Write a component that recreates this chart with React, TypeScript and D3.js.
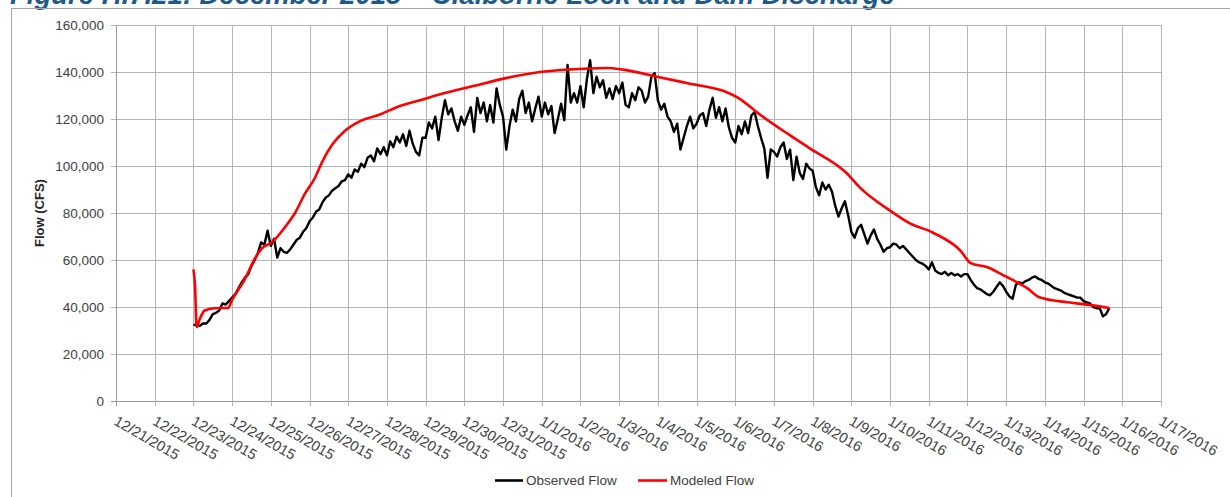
import React from "react";
import * as d3 from "d3";

const title = "Figure H.7.21: December 2015 – Claiborne Lock and Dam Discharge";
const yAxisTitle = "Flow (CFS)";
const seriesNames = ["Observed Flow", "Modeled Flow"];

const xLabels = [
  "12/21/2015", "12/22/2015", "12/23/2015", "12/24/2015", "12/25/2015", "12/26/2015",
  "12/27/2015", "12/28/2015", "12/29/2015", "12/30/2015", "12/31/2015", "1/1/2016",
  "1/2/2016", "1/3/2016", "1/4/2016", "1/5/2016", "1/6/2016", "1/7/2016", "1/8/2016",
  "1/9/2016", "1/10/2016", "1/11/2016", "1/12/2016", "1/13/2016", "1/14/2016",
  "1/15/2016", "1/16/2016", "1/17/2016",
];
const yTicks = [0, 20000, 40000, 60000, 80000, 100000, 120000, 140000, 160000];

// Series start at 12/23/2015 00:00 (day 2 after 12/21)
const seriesStartDay = 2;
// Observed flow, every 2 hours from the start (one row per day)
const observedStepHours = 2;
const observedFlow = [
  32500, 32200, 32000, 33000, 33000, 34500, 37000, 37500, 38500, 41500, 41000, 42500,
  44000, 45500, 48000, 50500, 52500, 54000, 57500, 60000, 63000, 67500, 66500, 72500,
  66000, 69000, 61000, 65000, 63500, 63000, 64500, 66500, 68500, 69500, 72000, 73500,
  76500, 78000, 80500, 81500, 84500, 86500, 87500, 89500, 90500, 91500, 93500, 94000,
  96500, 95000, 98500, 97500, 101000, 99500, 103500, 104500, 102000, 107500, 105000, 108000,
  104500, 110500, 108000, 112500, 110000, 113500, 108500, 115000, 109500, 106000, 104500, 112000,
  112000, 118500, 116000, 121000, 111000, 120500, 128000, 122000, 124500, 119000, 115000, 121000,
  117500, 121500, 125000, 114500, 129000, 122500, 127000, 119000, 126000, 118500, 133000, 126000,
  121000, 107000, 117000, 124000, 119000, 128500, 132000, 122500, 127000, 119000, 124500, 129500,
  121000, 127000, 122000, 125500, 114000, 120000, 126500, 119500, 143000, 127000, 131000, 127000,
  134000, 125000, 137000, 145000, 131000, 138000, 133500, 136500, 129000, 133000, 128500, 134000,
  131000, 135500, 126000, 125000, 131000, 128000, 133500, 132000, 127000, 129500, 138000, 139500,
  128000, 124000, 126500, 121000, 119000, 114500, 118000, 107000, 112000, 117000, 121000, 116000,
  118000, 121500, 122500, 117000, 124000, 129000, 120500, 125000, 119000, 124500, 116500, 112000,
  110000, 117000, 113500, 119000, 114000, 121500, 123000, 117000, 112000, 107500, 95000, 107000,
  106000, 104000, 108000, 110000, 103000, 107000, 94000, 104000, 97000, 94500, 101000, 99000,
  98000, 91000, 87500, 93000, 90000, 92000, 89000, 83000, 78500, 82000, 85000, 79000,
  72000, 69500, 73500, 75000, 71000, 67000, 70500, 73000, 69000, 66500, 63500, 65000,
  65500, 67000, 66500, 65000, 66000, 64500, 63000, 61500, 60000, 59000, 58500, 57500,
  56000, 59000, 55500, 54500, 54000, 55000, 53500, 54500, 53500, 54000, 53000, 54000,
  54000, 51500, 49500, 48000, 47500, 46500, 45500, 45000, 46500, 48500, 50500, 49000,
  46500, 44500, 43500, 49500, 50500, 50000, 51000, 51500, 52500, 53000, 52000, 51500,
  50500, 50000, 49000, 48000, 47500, 47000, 46000, 45500, 45000, 44500, 44000, 44000,
  42500, 42000, 41500, 40000, 39500, 39500, 36000, 37000, 39600,
];
// Modeled flow: hours since start and values
const modeledHours = [
  0, 1, 2, 4, 7, 13, 21.5, 24, 32, 38, 42.5, 48.7, 56.8, 63, 69, 75.4, 80, 86, 94,
  103, 116, 128, 140.5, 153, 173.4, 194.5, 215, 231.7, 256.5, 266.5, 287.5, 308,
  328.4, 339, 351, 370, 382, 405, 413, 432, 444, 459, 475.6, 482, 492, 502, 508,
  517, 525, 542, 554, 568,
];
const modeledFlow = [
  56000, 49000, 31500, 35000, 38500, 39500, 39600, 43000, 52000, 60500, 65000, 67500,
  74000, 80000, 88000, 95000, 102000, 109000, 115000, 119000, 122000, 125500, 128000, 130500,
  134000, 137500, 140000, 141000, 141700, 141000, 138000, 135000, 132000, 128500,
  122000, 113000, 107600, 97000, 91000, 81000, 75700, 71500, 64000, 58700, 57000,
  53600, 51500, 48000, 44000, 42000, 41000, 39600,
];

const W = 1230;
const H = 497;
const plot = { left: 116, right: 1161, top: 25, bottom: 401 };

export default function App() {
  const x = d3.scaleLinear().domain([0, xLabels.length - 1]).range([plot.left, plot.right]);
  const y = d3.scaleLinear().domain([0, 160000]).range([plot.bottom, plot.top]);

  const obsPts: [number, number][] = observedFlow.map((v, i) => [
    seriesStartDay + (i * observedStepHours) / 24,
    v,
  ]);
  const modPts: [number, number][] = modeledFlow.map((v, i) => [
    seriesStartDay + modeledHours[i] / 24,
    v,
  ]);
  const line = d3
    .line<[number, number]>()
    .x((d) => x(d[0]))
    .y((d) => y(d[1]));
  const smoothLine = d3
    .line<[number, number]>()
    .x((d) => x(d[0]))
    .y((d) => y(d[1]))
    .curve(d3.curveMonotoneX);

  const fmt = d3.format(",");
  const font = "'Liberation Sans', Arial, sans-serif";
  const gridColor = "#b4b4b4";

  return (
    <svg
      width={W}
      height={H}
      style={{ position: "absolute", left: 0, top: 0, background: "#fff" }}
      fontFamily={font}
    >
      <rect x={0} y={0} width={W} height={H} fill="#fff" />
      <text
        x={10}
        y={4}
        fontSize={27.5}
        fontWeight="bold"
        fontStyle="italic"
        fill="#1F5A89"
      >
        {title}
      </text>
      <rect x={11.5} y={8.5} width={W} height={H} fill="none" stroke="#a6a6a6" strokeWidth={1} />

      {/* horizontal gridlines */}
      {yTicks.map((t) => (
        <line
          key={"h" + t}
          x1={plot.left - 5}
          x2={plot.right}
          y1={Math.round(y(t)) + 0.5}
          y2={Math.round(y(t)) + 0.5}
          stroke={t === 0 ? "#9a9a9a" : gridColor}
          strokeWidth={1}
        />
      ))}
      {/* vertical gridlines */}
      {xLabels.map((_, i) => (
        <line
          key={"v" + i}
          x1={Math.round(x(i)) + 0.5}
          x2={Math.round(x(i)) + 0.5}
          y1={plot.top}
          y2={plot.bottom + 5}
          stroke={i === 0 ? "#9a9a9a" : gridColor}
          strokeWidth={1}
        />
      ))}

      {/* y tick labels */}
      {yTicks.map((t) => (
        <text
          key={"yl" + t}
          x={104}
          y={y(t)}
          dy="0.35em"
          textAnchor="end"
          fontSize={13.5}
          fill="#404040"
        >
          {fmt(t)}
        </text>
      ))}
      <text
        transform={`translate(44, ${(plot.top + plot.bottom) / 2}) rotate(-90)`}
        textAnchor="middle"
        fontSize={13}
        fontWeight="bold"
        fill="#262626"
      >
        {yAxisTitle}
      </text>

      {/* x tick labels */}
      {xLabels.map((lab, i) => (
        <text
          key={"xl" + i}
          transform={`translate(${x(i) - 3}, ${plot.bottom + 23}) rotate(30)`}
          fontSize={14.5}
          fill="#404040"
        >
          {lab}
        </text>
      ))}

      {/* series */}
      <path d={line(obsPts) || ""} fill="none" stroke="#000" strokeWidth={2.4} strokeLinejoin="round" />
      <path d={smoothLine(modPts) || ""} fill="none" stroke="#ff0000" strokeWidth={2.6} strokeLinejoin="round" />

      {/* legend */}
      <line x1={495} x2={523} y1={480.5} y2={480.5} stroke="#000" strokeWidth={2.6} />
      <text x={526} y={480} dy="0.35em" fontSize={13.5} fill="#404040">
        {seriesNames[0]}
      </text>
      <line x1={638} x2={667} y1={480.5} y2={480.5} stroke="#ff0000" strokeWidth={2.6} />
      <text x={670} y={480} dy="0.35em" fontSize={13.5} fill="#404040">
        {seriesNames[1]}
      </text>
    </svg>
  );
}
